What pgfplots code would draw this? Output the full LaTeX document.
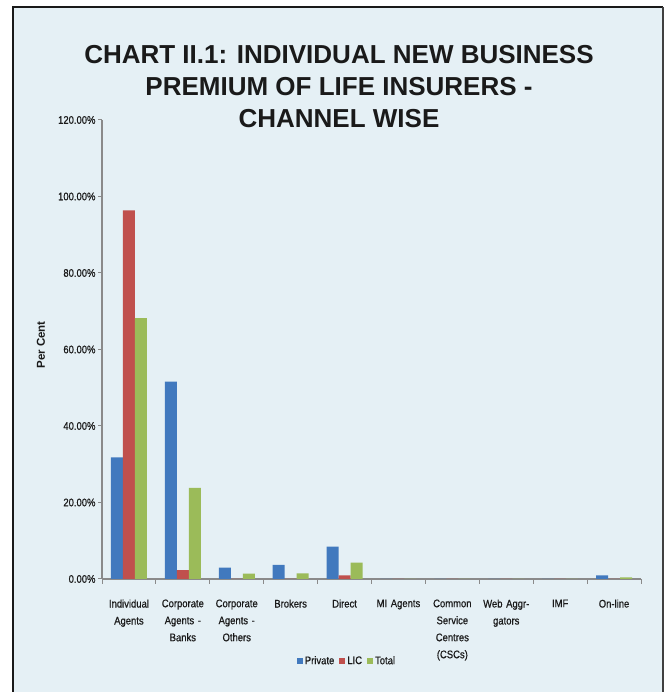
\documentclass[border=0pt]{standalone}
\usepackage{pgfplots}
\pgfplotsset{compat=1.18}
\usepackage{fontspec}
\setmainfont{Liberation Sans}
\newfontfamily\narrow[FakeStretch=0.86,FakeBold=0.6]{Liberation Sans}
\definecolor{bgc}{HTML}{E5F0F5}
\definecolor{cP}{HTML}{4179BE}
\definecolor{cL}{HTML}{C0504D}
\definecolor{cT}{HTML}{9BBB59}
\definecolor{axc}{HTML}{8A8A8A}
\definecolor{txt}{HTML}{1A1A1A}
\pgfplotsset{sq/.style={legend image code/.code={\fill[##1] (0pt,-3pt) rectangle (6pt,3pt);}}}
\begin{document}
\begin{tikzpicture}
\useasboundingbox (0pt,0pt) rectangle (666pt,692pt);
\fill[white] (0pt,0pt) rectangle (666pt,692pt);
\fill[bgc] (13pt,0pt) rectangle (663pt,685pt);
\draw[black!90, line width=2pt] (13pt,-2pt) -- (13pt,685pt) -- (663pt,685pt);
\draw[black!75, line width=1.2pt] (663pt,685pt) -- (663pt,-2pt);
\node[anchor=base, text=txt, font=\bfseries\fontsize{26}{30}\selectfont, inner sep=0pt] at (339pt,628pt) {CHART II.1: INDIVIDUAL NEW BUSINESS};
\node[anchor=base, text=txt, font=\bfseries\fontsize{26}{30}\selectfont, inner sep=0pt] at (339pt,596pt) {PREMIUM OF LIFE INSURERS -};
\node[anchor=base, text=txt, font=\bfseries\fontsize{26}{30}\selectfont, inner sep=0pt] at (339pt,564pt) {CHANNEL WISE};
\node[rotate=90, text=txt, font=\bfseries\fontsize{11.5}{12}\selectfont] at (41pt,347pt) {Per Cent};
\begin{axis}[
  scale only axis, width=539pt, height=459pt,
  at={(102pt,113pt)}, anchor=south west,
  xmin=-0.5, xmax=9.5, ymin=0, ymax=120,
  axis x line=bottom, axis y line=left,
  axis line style={-, draw=axc, line width=1.2pt},
  ybar=0pt, bar width=12pt,
  ytick={0,20,40,60,80,100,120},
  yticklabels={0.00\%,20.00\%,40.00\%,60.00\%,80.00\%,100.00\%,120.00\%},
  xtick={0,1,2,3,4,5,6,7,8,9},
  xticklabels={Individual\\Agents, Corporate\\Agents -\\Banks, Corporate\\Agents -\\Others, Brokers, Direct, MI Agents, Common\\Service\\Centres\\(CSCs), Web Aggr-\\gators, IMF, On-line},
  minor xtick={-0.5,0.5,1.5,2.5,3.5,4.5,5.5,6.5,7.5,8.5,9.5},
  major x tick style={draw=none},
  tick align=outside,
  tick style={draw=axc, line width=1pt},
  major tick length=4pt, minor tick length=5pt,
  yticklabel style={font=\narrow\fontsize{11}{12}\selectfont, text=txt, xshift=1pt},
  xticklabel style={font=\narrow\fontsize{11}{17}\selectfont, text=txt, align=center, text width=56pt, anchor=north, yshift=-13pt},
  legend style={at={(0.4545,-0.1786)}, anchor=center, draw=none, fill=none, legend columns=3,
    font=\narrow\fontsize{11}{12}\selectfont, text=txt,
    /tikz/every even column/.append style={column sep=3pt}},
]
\addplot[fill=cP, draw=none, sq] coordinates {(0,31.8) (1,51.6) (2,2.96) (3,3.66) (4,8.45) (5,0) (6,0) (7,0) (8,0) (9,0.97)};
\addplot[fill=cL, draw=none, sq] coordinates {(0,96.4) (1,2.35) (2,0) (3,0) (4,0.97) (5,0) (6,0) (7,0) (8,0) (9,0)};
\addplot[fill=cT, draw=none, sq] coordinates {(0,68.2) (1,23.8) (2,1.4) (3,1.45) (4,4.26) (5,0) (6,0) (7,0) (8,0) (9,0.45)};
\legend{Private, LIC, Total}
\end{axis}
\end{tikzpicture}
\end{document}
